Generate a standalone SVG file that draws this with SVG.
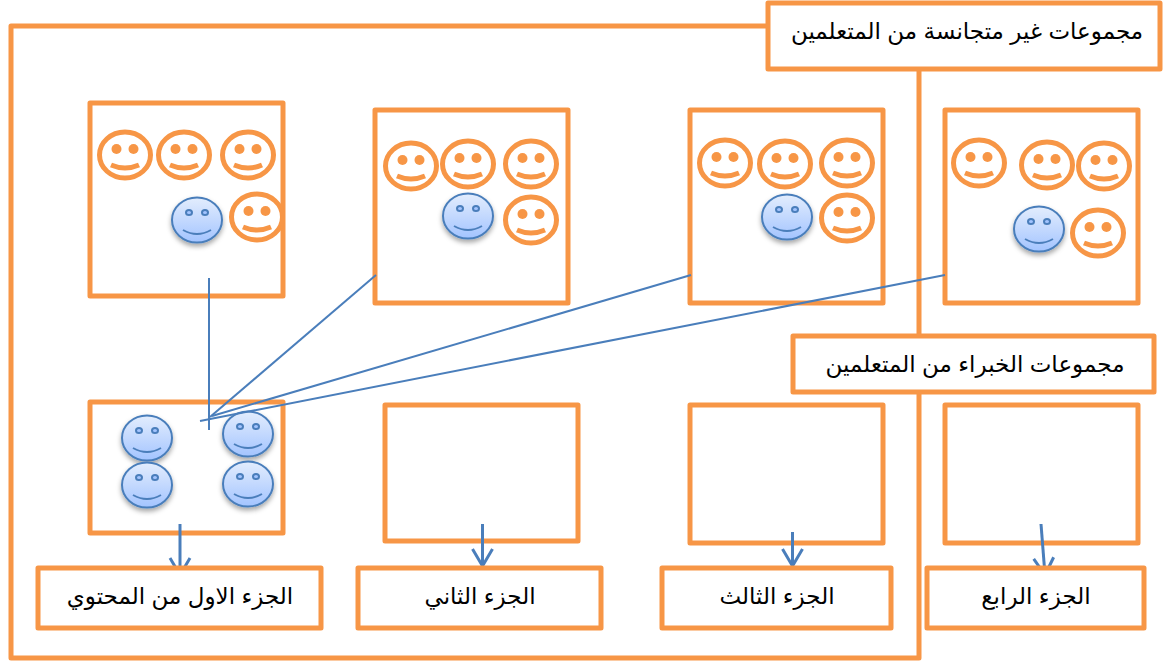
<svg xmlns="http://www.w3.org/2000/svg" width="1165" height="662" viewBox="0 0 1165 662">
<style>
.b{fill:#fff;stroke:#f79646;stroke-width:5;stroke-linejoin:round}
.f{fill:none;stroke:#f79646;stroke-width:5;stroke-linejoin:round}
.c{fill:none;stroke:#4a7ebb;stroke-width:2}
.r{fill:none;stroke:#4a7ebb;stroke-width:3}
.t{font-family:"Liberation Sans","DejaVu Sans",sans-serif;font-size:23px;fill:#000;text-anchor:middle;direction:rtl}
</style>
<defs>
<linearGradient id="g" x1="0" y1="0" x2="0" y2="1"><stop offset="0" stop-color="#e3edfd"/><stop offset="1" stop-color="#a3c4ff"/></linearGradient>
<filter id="s" x="-30%" y="-30%" width="160%" height="170%"><feDropShadow dx="0" dy="3" stdDeviation="2.5" flood-color="#000" flood-opacity=".35"/></filter>
<g id="o">
<ellipse cx="0" cy="0" rx="25.500" ry="23" fill="#fff" stroke="#f79646" stroke-width="5"/>
<circle cx="-8.500" cy="-6" r="5" fill="#f79646"/>
<circle cx="8.500" cy="-6" r="5" fill="#f79646"/>
<path d="M-14 10Q0 16 14 10" fill="none" stroke="#f79646" stroke-width="5"/>
</g>
<g id="u">
<ellipse cx="0" cy="0" rx="25" ry="22.500" fill="url(#g)" stroke="#4a7ebb" stroke-width="2" filter="url(#s)"/>
<ellipse cx="-8" cy="-7.500" rx="3" ry="2.500" fill="#a3c4ff" stroke="#4a7ebb" stroke-width="2"/>
<ellipse cx="8" cy="-7.500" rx="3" ry="2.500" fill="#a3c4ff" stroke="#4a7ebb" stroke-width="2"/>
<path d="M-14 10Q0 18 14 10" fill="none" stroke="#4a7ebb" stroke-width="2"/>
</g>
<marker id="a" viewBox="0 0 20 24" refX="18" refY="12" markerWidth="20" markerHeight="24" markerUnits="userSpaceOnUse" orient="auto"><path d="M1 2L18 12L1 22" fill="none" stroke="#4a7ebb" stroke-width="3"/></marker>
</defs>
<g id="outer"><rect class="f" x="11" y="26" width="908" height="632"/></g>
<g id="group-1"><rect class="b" x="90" y="103" width="193" height="193"/>
<use href="#o" x="125" y="155"/><use href="#o" x="184" y="155"/><use href="#o" x="248" y="155"/><use href="#o" x="257" y="217"/><use href="#u" x="197" y="220"/></g>
<g id="group-2"><rect class="b" x="375" y="110" width="193" height="193"/>
<use href="#o" x="411" y="166"/><use href="#o" x="468" y="164"/><use href="#o" x="531" y="164"/><use href="#o" x="531" y="220"/><use href="#u" x="468" y="216"/></g>
<g id="group-3"><rect class="b" x="690" y="110" width="193" height="193"/>
<use href="#o" x="725" y="163"/><use href="#o" x="785" y="164"/><use href="#o" x="847" y="163"/><use href="#o" x="847" y="218"/><use href="#u" x="787" y="217"/></g>
<g id="group-4"><rect class="b" x="945" y="110" width="193" height="193"/>
<use href="#o" x="979" y="163"/><use href="#o" x="1047" y="165"/><use href="#o" x="1104" y="166"/><use href="#o" x="1098" y="233"/><use href="#u" x="1039" y="229"/></g>
<g id="expert-1"><rect class="b" x="90" y="402" width="193" height="131"/>
<use href="#u" x="147" y="438"/><use href="#u" x="147" y="485"/><use href="#u" x="248" y="434"/><use href="#u" x="248" y="484"/></g>
<g id="expert-2"><rect class="b" x="385" y="405" width="193" height="136"/></g>
<g id="expert-3"><rect class="b" x="690" y="405" width="193" height="138"/></g>
<g id="expert-4"><rect class="b" x="945" y="405" width="193" height="138"/></g>
<g id="connectors">
<line class="c" x1="209" y1="278" x2="209" y2="430"/>
<line class="c" x1="376" y1="275" x2="210" y2="417"/>
<line class="c" x1="691" y1="275" x2="212" y2="416"/>
<line class="c" x1="945" y1="275" x2="200" y2="421"/>
<line class="r" x1="180" y1="524" x2="180" y2="575" marker-end="url(#a)"/>
<line class="r" x1="482.500" y1="524" x2="482.500" y2="566" marker-end="url(#a)"/>
<line class="r" x1="792.500" y1="532" x2="792.500" y2="566" marker-end="url(#a)"/>
<line class="r" x1="1041" y1="524" x2="1045" y2="575" marker-end="url(#a)"/>
</g>
<g id="label-top"><rect class="b" x="768" y="3" width="392" height="66"/><text class="t" x="967" y="39">مجموعات غير متجانسة من المتعلمين</text></g>
<g id="label-mid"><rect class="b" x="793" y="336" width="361" height="56"/><text class="t" x="975" y="372">مجموعات الخبراء من المتعلمين</text></g>
<g id="part-1"><rect class="b" x="38" y="568" width="283" height="60"/><text class="t" x="180" y="604">الجزء الاول من المحتوي</text></g>
<g id="part-2"><rect class="b" x="358" y="568" width="243" height="60"/><text class="t" x="480" y="604">الجزء الثاني</text></g>
<g id="part-3"><rect class="b" x="662" y="568" width="229" height="60"/><text class="t" x="777" y="604">الجزء الثالث</text></g>
<g id="part-4"><rect class="b" x="927" y="568" width="217" height="60"/><text class="t" x="1036" y="604">الجزء الرابع</text></g>
</svg>
